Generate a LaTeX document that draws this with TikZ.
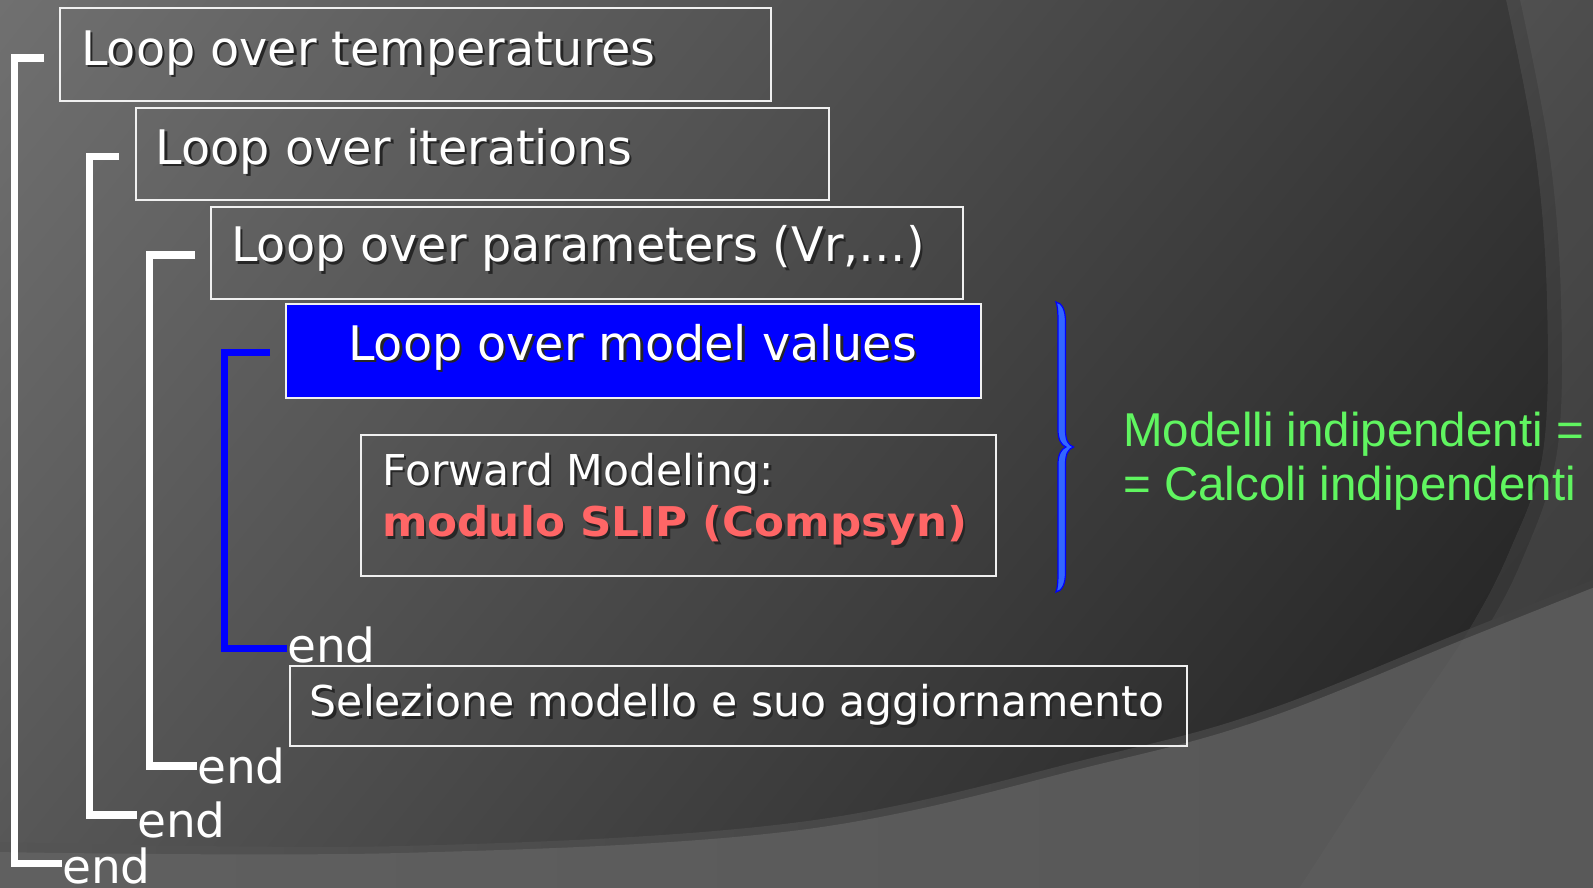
\documentclass[tikz,border=0pt]{standalone}
\usepackage{fontspec}
\usetikzlibrary{shadings}
\setmainfont{DejaVu Sans}
\newfontfamily\notefont{Liberation Sans}
\newfontfamily\slipfont{DejaVu Sans Bold}[FakeStretch=1.065]

\definecolor{bgUL}{RGB}{112,112,112}
\definecolor{bgUR}{RGB}{54,54,54}
\definecolor{bgLL}{RGB}{86,86,86}
\definecolor{bgLR}{RGB}{28,28,28}
\definecolor{bandL}{RGB}{85,85,85}
\definecolor{bandR}{RGB}{60,60,60}
\definecolor{lowL}{RGB}{96,96,96}
\definecolor{lowR}{RGB}{86,86,86}
\definecolor{boxline}{RGB}{240,240,240}
\definecolor{loopblue}{RGB}{0,0,255}
\definecolor{bracefill}{RGB}{51,102,255}
\definecolor{slipred}{RGB}{255,102,102}
\definecolor{notegreen}{RGB}{96,245,96}

% text with a small dark drop shadow
\newcommand\dropshade[1]{\makebox[0pt][l]{\hspace{2.5pt}\raisebox{-2.5pt}{\textcolor{black!85}{#1}}}#1}

\tikzset{
  frame/.style={draw=boxline, line width=2pt, inner sep=0pt, anchor=north west},
  label/.style={inner sep=0pt, anchor=base west, text=white},
  loopfont/.style={font=\fontsize{47.6}{58}\selectfont},
  midfont/.style={font=\fontsize{42.5}{50}\selectfont},
  endfont/.style={font=\fontsize{47}{56}\selectfont},
  bracket/.style={draw=white, line width=7.5pt},
  bluebracket/.style={draw=loopblue, line width=7.5pt},
  note/.style={inner sep=0pt, anchor=base west, text=notegreen,
    font=\notefont\fontsize{47.5}{53}\selectfont},
}

\begin{document}
\begin{tikzpicture}[x=1pt, y=-1pt]
\useasboundingbox (0,0) rectangle (1593,887);

% ---------- background ----------
\begin{scope}
  \clip (0,0) rectangle (1593,887);
  \shade[upper left=bgUL, upper right=bgUR, lower left=bgLL, lower right=bgLR]
    (0,0) rectangle (1593,887);
  % large arcs on the right
  \fill[white, opacity=0.05] plot[smooth, tension=0.6] coordinates
    {(1505,-5) (1535,150) (1547,300) (1543,452) (1510,550) (1467,633) (1400,733) (1300,887) (1290,900)}
    -- (1600,900) -- (1600,-5) -- cycle;
  \fill[white, opacity=0.05] plot[smooth, tension=0.6] coordinates
    {(1519,-5) (1549,150) (1561,300) (1557,452) (1522,560) (1478,643) (1410,743) (1310,900)}
    -- (1600,900) -- (1600,-5) -- cycle;
  % lower sweep
  \shade[left color=bandL, right color=bandR] plot[smooth, tension=0.6] coordinates
    {(-5,842) (400,846) (800,822) (1100,756) (1267,710) (1467,630) (1600,577)}
    -- (1600,900) -- (-5,900) -- cycle;
  \shade[left color=lowL, right color=lowR] plot[smooth, tension=0.6] coordinates
    {(-5,852) (400,853) (800,830) (1100,764) (1267,718) (1467,638) (1600,585)}
    -- (1600,900) -- (-5,900) -- cycle;
  \fill[white, opacity=0.025] plot[smooth, tension=0.6] coordinates
    {(1505,-5) (1535,150) (1547,300) (1543,452) (1510,550) (1467,633) (1400,733) (1300,887) (1290,900)}
    -- (1600,900) -- (1600,-5) -- cycle;
\end{scope}

% ---------- boxes ----------
\node[frame, minimum width=711pt, minimum height=92.7pt] (tbox) at (59,7.3) {};
\node[frame, minimum width=693.3pt, minimum height=92.6pt] (ibox) at (134.7,106.7) {};
\node[frame, minimum width=752.3pt, minimum height=92pt] (pbox) at (209.7,205.7) {};
\node[frame, fill=loopblue, minimum width=695pt, minimum height=93.4pt] (mbox) at (285,303.3) {};
\node[frame, minimum width=634.6pt, minimum height=141pt] (fbox) at (360.4,434) {};
\node[frame, minimum width=897pt, minimum height=80pt] (sbox) at (289,665) {};

% ---------- box texts ----------
\node[label, loopfont] (ttxt) at (81,65) {\dropshade{Loop over temperatures}};
\node[label, loopfont] (itxt) at (155.6,164) {\dropshade{Loop over iterations}};
\node[label, loopfont] (ptxt) at (231,261.7) {\dropshade{Loop over parameters (Vr,…)}};
\node[label, loopfont] (mtxt) at (348,360) {\dropshade{Loop over model values}};
\node[label, midfont] (ftxt) at (382,485) {\dropshade{Forward Modeling:}};
\node[label, text=slipred, font=\slipfont\fontsize{41}{50}\selectfont] (rtxt) at (382,536.5)
  {\dropshade{modulo SLIP (Compsyn)}};
\node[label, midfont] (stxt) at (309.7,716.7) {\dropshade{Selezione modello e suo aggiornamento}};

% ---------- end markers ----------
\node[label, endfont] (e1) at (62,883) {end};
\node[label, endfont] (e2) at (137,837) {end};
\node[label, endfont] (e3) at (197,783) {end};
\node[label, endfont] (e4) at (287,662) {end};

% ---------- loop brackets ----------
\draw[bracket] ([xshift=-15pt, yshift=-3.3pt]tbox.west) -- ++(-29.5,0)
  |- ([yshift=19.5pt]e1.base west);
\draw[bracket] ([xshift=-15.7pt, yshift=-2.5pt]ibox.west) -- ++(-29.5,0)
  |- ([yshift=22pt]e2.base west);
\draw[bracket] ([xshift=-14.7pt, yshift=-2.3pt]pbox.west) -- ++(-45.5,0)
  |- ([yshift=17pt]e3.base west);
\draw[bluebracket] ([xshift=-15pt, yshift=-1.7pt]mbox.west) -- ++(-45.5,0)
  |- ([yshift=13.5pt]e4.base west);

% ---------- brace and note ----------
\draw[draw=loopblue, fill=bracefill, line width=1.2pt]
  (1056,302) .. controls (1062,303) and (1065.5,310) .. (1065.5,322)
  -- (1065.5,430) .. controls (1065.5,440) and (1068,445) .. (1073.5,447)
  .. controls (1068,449) and (1065.5,454) .. (1065.5,464)
  -- (1065.5,572) .. controls (1065.5,584) and (1062,591) .. (1056,592)
  .. controls (1057.5,588) and (1058,582) .. (1058,572)
  -- (1058,464) .. controls (1058,455) and (1061,449) .. (1066,447)
  .. controls (1061,445) and (1058,439) .. (1058,430)
  -- (1058,322) .. controls (1058,312) and (1057.5,306) .. (1056,302) -- cycle;

\node[note] (n1) at (1123,446.7) {Modelli indipendenti =};
\node[note] (n2) at (1123,500) {= Calcoli indipendenti};
\end{tikzpicture}
\end{document}
